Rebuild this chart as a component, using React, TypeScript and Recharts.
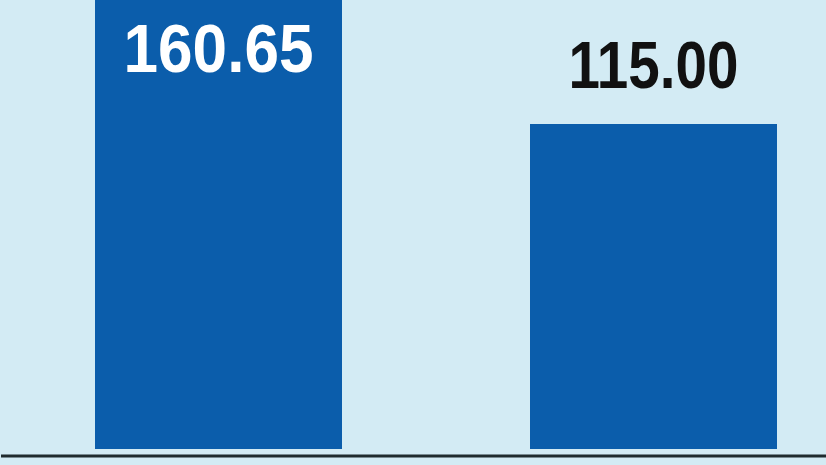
import React from 'react';
import { BarChart, Bar, XAxis, YAxis, LabelList } from 'recharts';

// values
const categories = ['A', 'B'];
const values = [160.65, 115.0];

const BG = '#d3ebf4';
const BAR = '#0b5dab';
const Y_MIN = -2.48;
const Y_MAX = 158.9;

const data = categories.map((name, i) => ({ name, value: values[i] }));

const ValueLabel = (props: any) => {
  const { x, y, width, value } = props;
  const cx = x + width / 2;
  const inside = value > Y_MAX;
  return (
    <text
      x={cx}
      y={inside ? y + 77 : y - 36}
      textAnchor="middle"
      fill={inside ? '#ffffff' : '#111111'}
      fontFamily="'Liberation Sans', Arial, sans-serif"
      fontWeight="bold"
      fontSize={inside ? 68 : 66}
      textLength={inside ? 190 : 170}
      lengthAdjust="spacingAndGlyphs"
    >
      {value.toFixed(2)}
    </text>
  );
};

export default function App() {
  return (
    <div
      style={{
        position: 'fixed',
        left: 0,
        top: 0,
        width: 826,
        height: 465,
        overflow: 'hidden',
        background: BG,
      }}
    >
      <BarChart
        width={872}
        height={465}
        data={data}
        margin={{ top: 0, right: 1, left: 1, bottom: 8 }}
        barCategoryGap={0}
      >
        <XAxis
          dataKey="name"
          tick={false}
          tickLine={false}
          height={1}
          axisLine={{ stroke: '#1f2b2e', strokeWidth: 3 }}
        />
        <YAxis hide domain={[Y_MIN, Y_MAX]} allowDataOverflow />
        <Bar dataKey="value" fill={BAR} barSize={247} isAnimationActive={false}>
          <LabelList dataKey="value" content={ValueLabel} />
        </Bar>
      </BarChart>
    </div>
  );
}
